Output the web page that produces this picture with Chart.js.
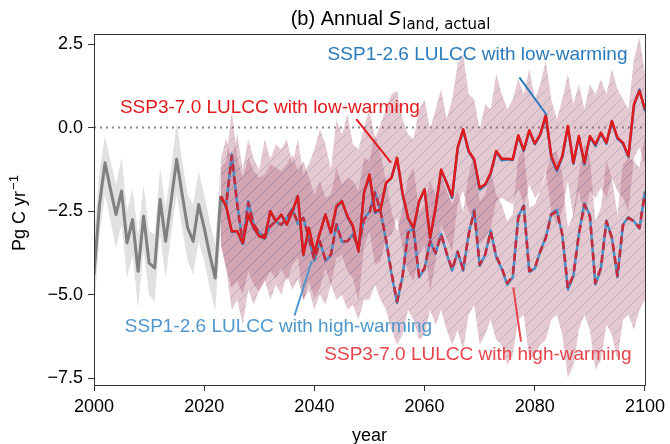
<!DOCTYPE html>
<html>
<head>
<meta charset="utf-8">
<script src="https://cdn.jsdelivr.net/npm/chart.js@4.4.1/dist/chart.umd.min.js"></script>
<style>
  html, body { margin: 0; padding: 0; background: #fff; }
  #wrap { width: 670px; height: 444px; }
</style>
</head>
<body>
<div id="wrap"><canvas id="landChart" width="670" height="444"></canvas></div>
<script>
// historical period 2000-2023
const histStart = 2000;
const greyLine  = [-4.4, -2.3, -1.05, -1.85, -2.6, -1.9, -3.45, -2.75, -4.3, -2.65, -4.05, -4.2, -2.15, -3.4, -2.2, -0.95, -2.0, -3.0, -3.4, -2.3, -3.0, -3.8, -4.5, -2.05];
const greyUpper = [-3.3, -1.3, -0.25, -1.0, -1.7, -0.9, -2.5, -1.8, -3.2, -1.7, -3.1, -3.2, -1.2, -2.4, -1.2, 0.15, -1.0, -2.0, -2.3, -1.3, -2.0, -2.8, -3.5, -1.0];
const greyLower = [-5.5, -3.2, -2.0, -2.8, -3.6, -2.9, -4.5, -3.8, -5.4, -3.7, -5.0, -5.2, -3.2, -4.5, -3.2, -2.0, -3.0, -4.0, -4.4, -3.4, -4.0, -4.8, -5.5, -3.1];

// projections 2023-2100
const projStart = 2023;
const ssp370Low = [
  -2.05, -2.35, -3.1, -3.1, -3.45, -2.6, -3.0, -3.25, -3.3, -2.5,
  -2.8, -2.6, -2.9, -2.5, -2.05, -3.8, -3.0, -3.74, -3.15, -2.6,
  -3.15, -2.35, -2.2, -2.65, -2.95, -3.7, -1.95, -1.4, -2.5, -2.45,
  -1.65, -1.5, -0.9, -1.95, -2.7, -3.0, -2.2, -1.85, -3.3, -2.4,
  -1.25, -1.65, -2.05, -0.6, -0.05, -0.7, -0.95, -1.8, -1.7, -1.35,
  -0.7, -0.93, -0.93, -0.95, -0.23, -0.67, -0.08, -0.48, -0.2, 0.38,
  -0.85, -1.25, -0.85, 0.05, -1.05, -0.25, -1.05, -0.25, -0.5, -0.15,
  -0.45, 0.2, -0.3, -0.45, -0.85, 0.7, 1.1, 0.55
];
const ssp126Low = [
  -2.05, -2.38, -3.12, -3.1, -3.48, -2.6, -3.02, -3.25, -3.32, -2.5,
  -2.8, -2.62, -2.9, -2.52, -2.05, -3.82, -3.0, -3.76, -3.15, -2.6,
  -3.15, -2.4, -2.2, -2.68, -2.98, -3.7, -1.95, -1.45, -2.55, -2.45,
  -1.68, -1.5, -0.92, -2.0, -2.72, -3.05, -2.22, -1.85, -3.32, -2.4,
  -1.28, -1.65, -2.1, -0.62, -0.08, -0.72, -0.98, -1.85, -1.72, -1.38,
  -0.72, -0.98, -0.95, -0.97, -0.25, -0.7, -0.1, -0.5, -0.22, 0.33,
  -0.9, -1.3, -0.88, 0.02, -1.08, -0.28, -1.1, -0.27, -0.55, -0.18,
  -0.48, 0.16, -0.33, -0.48, -0.88, 0.66, 1.14, 0.5
];
const ssp370High = [
  -2.1, -2.3, -0.85, -2.3, -3.45, -2.25, -2.9, -3.15, -3.25, -2.95,
  -2.8, -2.9, -2.7, -2.45, -2.85, -2.7, -3.3, -3.95, -3.4, -3.95,
  -3.8, -2.9, -3.4, -3.4, -3.2, -3.6, -2.75, -2.55, -1.95, -2.5,
  -3.35, -4.35, -5.2, -4.45, -3.15, -3.05, -4.45, -4.2, -3.4, -3.75,
  -3.2, -3.75, -4.24, -3.72, -4.24, -3.2, -2.5, -4.1, -3.8, -3.1,
  -3.85, -4.2, -4.65, -4.45, -2.7, -2.35, -4.29, -4.2, -3.7, -3.3,
  -2.6, -2.5, -3.2, -4.8, -4.42, -3.2, -2.3, -2.65, -4.65, -4.2,
  -2.8, -3.3, -4.44, -2.92, -2.7, -2.8, -3.0, -1.95
];
const ssp126High = [
  -2.1, -2.32, -0.8, -2.3, -3.48, -2.2, -2.92, -3.15, -3.28, -2.95,
  -2.8, -2.92, -2.7, -2.42, -2.88, -2.7, -3.32, -3.98, -3.4, -3.98,
  -3.82, -2.88, -3.42, -3.4, -3.18, -3.62, -2.72, -2.52, -1.92, -2.5,
  -3.38, -4.38, -5.25, -4.45, -3.12, -3.02, -4.48, -4.22, -3.38, -3.78,
  -3.18, -3.78, -4.28, -3.7, -4.28, -3.18, -2.46, -4.14, -3.8, -3.08,
  -3.88, -4.22, -4.7, -4.48, -2.66, -2.32, -4.32, -4.22, -3.7, -3.28,
  -2.58, -2.46, -3.22, -4.85, -4.45, -3.18, -2.26, -2.62, -4.7, -4.22,
  -2.78, -3.3, -4.48, -2.9, -2.68, -2.8, -3.02, -1.9
];
// spread of the ensembles
const lowUpper = [
  -0.95, -0.3, -1.0, -0.2, -1.25, -0.35, -0.95, -1.25, -0.35, -0.95,
  -0.5, -0.65, -0.35, -1.1, -0.35, -1.4, -1.1, -0.65, -0.05, -0.5,
  -1.25, 0.25, -0.2, 0.4, -0.5, -0.65, 0.0, 0.55, -0.35, 0.1,
  0.55, 1.0, 1.1, 0.25, -0.2, -0.35, 0.55, 0.85, -0.05, 0.55,
  1.15, 0.25, 0.85, 1.9, 2.2, 1.0, 0.85, -0.05, 0.7, 0.55,
  1.6, 1.0, 0.55, 0.85, 1.45, 1.0, 1.75, 0.85, 1.3, 2.0,
  0.85, 0.25, 0.85, 1.6, 0.7, 1.3, 0.55, 1.3, 1.0, 1.45,
  1.0, 1.75, 1.15, 0.85, 0.55, 2.05, 2.7, 1.6
];
const lowLower = [
  -3.5, -4.2, -4.8, -4.6, -5.0, -4.3, -4.7, -4.9, -4.6, -4.3,
  -4.5, -4.2, -4.6, -4.1, -3.9, -5.2, -4.6, -5.1, -4.8, -4.2,
  -4.7, -3.9, -3.8, -4.3, -4.5, -5.2, -3.6, -3.1, -4.1, -4.0,
  -3.3, -3.2, -2.7, -3.6, -4.3, -4.6, -3.8, -3.5, -4.9, -4.0,
  -2.9, -3.3, -3.7, -2.3, -1.9, -2.5, -2.7, -3.5, -3.3, -3.0,
  -2.2, -2.1, -2.2, -2.3, -1.8, -2.3, -1.7, -2.1, -1.9, -1.3,
  -2.5, -2.9, -2.5, -1.6, -2.7, -1.9, -2.7, -1.9, -2.1, -1.8,
  -2.1, -1.5, -1.9, -2.1, -2.5, -0.9, -0.6, -1.1
];
const highUpper = [
  -1.2, -1.0, 0.5, -0.9, -1.5, -0.9, -1.3, -1.5, -1.4, -1.1,
  -1.2, -1.3, -1.1, -0.8, -1.3, -1.0, -1.5, -2.0, -1.6, -2.1,
  -2.0, -1.2, -1.7, -1.5, -1.6, -1.9, -0.9, -1.0, -0.2, -0.8,
  -1.6, -2.5, -3.1, -2.4, -1.5, -1.2, -2.5, -2.3, -1.6, -2.0,
  -1.4, -1.9, -2.3, -1.9, -2.5, -1.4, -0.8, -2.2, -2.0, -1.3,
  -2.0, -2.3, -2.8, -2.6, -0.9, -0.6, -2.4, -2.3, -1.9, -1.4,
  -0.8, -0.7, -1.4, -3.0, -2.6, -1.4, -0.5, -0.9, -2.8, -2.4,
  -1.0, -1.5, -2.6, -1.1, -0.9, -1.0, -1.2, -0.2
];
const highLower = [
  -3.5, -4.25, -5.45, -5.15, -5.9, -4.85, -5.3, -4.85, -4.55, -5.15,
  -4.7, -5.0, -4.4, -4.85, -4.55, -5.15, -4.85, -5.45, -5.0, -5.3,
  -4.7, -5.15, -5.0, -5.45, -5.3, -5.75, -5.15, -5.15, -4.7, -5.15,
  -5.45, -6.05, -6.5, -6.2, -5.45, -5.75, -6.35, -6.2, -5.45, -5.9,
  -5.45, -6.05, -6.5, -6.05, -6.65, -5.6, -5.3, -6.5, -6.2, -5.75,
  -6.35, -6.5, -7.1, -6.8, -5.75, -5.6, -6.95, -6.8, -6.5, -6.35,
  -5.75, -5.6, -6.2, -7.5, -7.1, -6.05, -5.6, -6.05, -7.25, -6.95,
  -5.9, -6.2, -6.95, -5.75, -5.6, -6.05, -5.45, -5.15
];
const yTicks = [-7.5, -5.0, -2.5, 0.0, 2.5];
const xTicks = [2000, 2020, 2040, 2060, 2080, 2100];

const FONT = '"Liberation Sans", Arial, sans-serif';
const MATH = '"DejaVu Sans", sans-serif';

const toPts = (start, arr) => arr.map((v, i) => ({ x: start + i, y: v }));

function hatchFill(base) {
    const c = document.createElement('canvas');
    c.width = 12; c.height = 12;
    const g = c.getContext('2d');
    g.fillStyle = base;
    g.fillRect(0, 0, 12, 12);
    g.strokeStyle = 'rgba(115,120,170,0.33)';
    g.lineWidth = 1;
    g.beginPath();
    g.moveTo(0, 12); g.lineTo(12, 0);
    g.moveTo(-6, 6); g.lineTo(6, -6);
    g.moveTo(6, 18); g.lineTo(18, 6);
    g.stroke();
    return g.createPattern(c, 'repeat');
}

const bandFill = hatchFill('rgba(170,80,108,0.31)');

function band(data, fill, color, order) {
    return {
        data: data, borderWidth: 0, pointRadius: 0,
        backgroundColor: color, fill: fill, order: order
    };
}

// labels + frame + title, drawn on top
const decorations = {
    id: 'decorations',
    beforeDatasetsDraw(chart) {
        const { ctx, chartArea: a, scales: { y } } = chart;
        ctx.save();
        ctx.strokeStyle = '#8a8a8a';
        ctx.lineWidth = 2;
        ctx.setLineDash([2, 4]);
        ctx.beginPath();
        ctx.moveTo(a.left, y.getPixelForValue(0));
        ctx.lineTo(a.right, y.getPixelForValue(0));
        ctx.stroke();
        ctx.restore();
    },
    afterDraw(chart) {
        const { ctx, chartArea: a, scales: { x, y } } = chart;
        ctx.save();
        ctx.strokeStyle = '#333';
        ctx.lineWidth = 1;
        ctx.strokeRect(a.left + 0.5, a.top + 0.5, a.right - a.left, a.bottom - a.top);

        const notes = [
            { text: 'SSP1-2.6 LULCC with low-warming', color: '#2b7bba', tx: 2042.4, ty: 2.17, from: [2077.2, 1.5], to: [2082.2, 0.37] },
            { text: 'SSP3-7.0 LULCC with low-warming', color: '#e31a1c', tx: 2004.7, ty: 0.6, from: [2047.6, 0.25], to: [2053.9, -1.05] },
            { text: 'SSP1-2.6 LULCC with high-warming', color: '#4f97cc', tx: 2005.6, ty: -5.95, from: [2036.4, -5.62], to: [2039.5, -4.0] },
            { text: 'SSP3-7.0 LULCC with high-warming', color: '#e8444c', tx: 2041.8, ty: -6.79, from: [2077.5, -6.4], to: [2076.1, -4.78] }
        ];
        ctx.font = '19px ' + FONT;
        ctx.textBaseline = 'middle';
        ctx.textAlign = 'left';
        notes.forEach(n => {
            ctx.strokeStyle = n.color;
            ctx.lineWidth = 2;
            ctx.beginPath();
            ctx.moveTo(x.getPixelForValue(n.from[0]), y.getPixelForValue(n.from[1]));
            ctx.lineTo(x.getPixelForValue(n.to[0]), y.getPixelForValue(n.to[1]));
            ctx.stroke();
            ctx.fillStyle = n.color;
            ctx.fillText(n.text, x.getPixelForValue(n.tx), y.getPixelForValue(n.ty));
        });

        // title with subscript
        ctx.fillStyle = '#000';
        ctx.textBaseline = 'alphabetic';
        const p1 = '(b) Annual ', p2 = 'S', p3 = 'land, actual';
        ctx.font = '20px ' + FONT;
        const w1 = ctx.measureText(p1).width;
        ctx.font = 'italic 20px ' + MATH;
        const w2 = ctx.measureText(p2).width;
        ctx.font = '15px ' + MATH;
        const w3 = ctx.measureText(p3).width;
        let tx = 390 - (w1 + w2 + w3) / 2;
        ctx.font = '20px ' + FONT;
        ctx.fillText(p1, tx, 25);
        ctx.font = 'italic 20px ' + MATH;
        ctx.fillText(p2, tx + w1, 25);
        ctx.font = '15px ' + MATH;
        ctx.fillText(p3, tx + w1 + w2 + 1, 29);

        // y axis title
        ctx.save();
        ctx.translate(25, (a.top + a.bottom) / 2 + 4);
        ctx.rotate(-Math.PI / 2);
        ctx.font = '18px ' + FONT;
        const yl = 'Pg C yr', ys = '\u22121';
        const wl = ctx.measureText(yl).width;
        ctx.font = '13px ' + FONT;
        const ws = ctx.measureText(ys).width;
        ctx.font = '18px ' + FONT;
        ctx.fillText(yl, -(wl + ws) / 2, 0);
        ctx.font = '13px ' + FONT;
        ctx.fillText(ys, -(wl + ws) / 2 + wl + 1, -7);
        ctx.restore();

        // x axis title
        ctx.font = '18px ' + FONT;
        ctx.textAlign = 'center';
        ctx.fillText('year', (a.left + a.right) / 2, 441);
        ctx.restore();
    }
};

const ctx = document.getElementById('landChart');

new Chart(ctx.getContext('2d'), {
    type: 'line',
    data: {
        datasets: [
            band(toPts(histStart, greyLower), false, 'transparent', 10),
            band(toPts(histStart, greyUpper), '-1', 'rgba(195,195,195,0.5)', 10),
            band(toPts(projStart, highLower), false, 'transparent', 9),
            band(toPts(projStart, highUpper), '-1', bandFill, 9),
            band(toPts(projStart, lowLower), false, 'transparent', 8),
            band(toPts(projStart, lowUpper), '-1', bandFill, 8),
            {
                data: toPts(histStart, greyLine),
                borderColor: '#808080', borderWidth: 3, order: 6
            },
            {
                label: 'SSP1-2.6 LULCC with high-warming',
                data: toPts(projStart, ssp126High),
                borderColor: '#4a90c8', borderWidth: 2.5, order: 5
            },
            {
                label: 'SSP3-7.0 LULCC with high-warming',
                data: toPts(projStart, ssp370High),
                borderColor: 'rgb(200,42,58)', borderWidth: 2.6,
                borderDash: [8, 5], order: 4
            },
            {
                label: 'SSP1-2.6 LULCC with low-warming',
                data: toPts(projStart, ssp126Low),
                borderColor: '#2b7bba', borderWidth: 2.5, order: 3
            },
            {
                label: 'SSP3-7.0 LULCC with low-warming',
                data: toPts(projStart, ssp370Low),
                borderColor: '#e31a1c', borderWidth: 2.5, order: 2
            }
        ]
    },
    options: {
        responsive: false,
        animation: false,
        layout: {
            padding: { top: 34, right: 24, left: 0, bottom: 0 }
        },
        elements: {
            point: { radius: 0 },
            line: { tension: 0, borderCapStyle: 'butt', borderJoinStyle: 'round' }
        },
        plugins: {
            legend: { display: false },
            tooltip: { enabled: false }
        },
        scales: {
            x: {
                type: 'linear',
                min: 2000,
                max: 2100,
                afterBuildTicks: scale => { scale.ticks = xTicks.map(v => ({ value: v })); },
                afterFit: scale => { scale.height = 59; },
                ticks: {
                    color: '#000',
                    padding: 5,
                    maxRotation: 0,
                    font: { size: 18, family: FONT },
                    callback: v => String(v)
                },
                grid: {
                    drawOnChartArea: false,
                    drawTicks: true,
                    tickLength: 6,
                    color: '#333'
                },
                border: { color: '#333' }
            },
            y: {
                min: -7.7,
                max: 2.8,
                afterBuildTicks: scale => { scale.ticks = yTicks.map(v => ({ value: v })); },
                afterFit: scale => { scale.width = 94; },
                ticks: {
                    color: '#000',
                    padding: 5,
                    font: { size: 18, family: FONT },
                    callback: v => (v < 0 ? '\u2212' : '') + Math.abs(v).toFixed(1)
                },
                grid: {
                    drawOnChartArea: false,
                    drawTicks: true,
                    tickLength: 6,
                    color: '#333'
                },
                border: { color: '#333' }
            }
        }
    },
    plugins: [decorations]
});
</script>
</body>
</html>
